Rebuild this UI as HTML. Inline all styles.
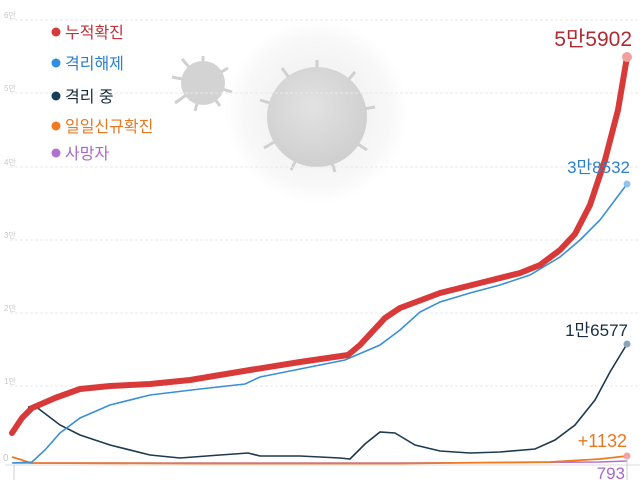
<!DOCTYPE html>
<html><head><meta charset="utf-8"><style>
html,body{margin:0;padding:0;background:#fff;}
svg{display:block;font-family:"Liberation Sans","Noto Sans CJK KR",sans-serif;}
</style></head><body>
<svg width="640" height="480" viewBox="0 0 640 480" xmlns="http://www.w3.org/2000/svg">
<defs>
<radialGradient id="halo" cx="0.5" cy="0.5" r="0.5">
<stop offset="0.55" stop-color="#f4f4f4"/><stop offset="0.8" stop-color="#f8f8f8"/><stop offset="1" stop-color="#fff"/>
</radialGradient>
<radialGradient id="bv" cx="0.45" cy="0.4" r="0.6">
<stop offset="0" stop-color="#e2e2e2"/><stop offset="1" stop-color="#cfcfcf"/>
</radialGradient>
</defs>
<rect width="640" height="480" fill="#fff"/>
<circle cx="317" cy="112" r="92" fill="url(#halo)"/>
<g stroke="#d0d0d0" stroke-width="3" fill="#cdcdcd">
<line x1="203" y1="83" x2="203" y2="56"/><line x1="203" y1="83" x2="228" y2="68"/><line x1="203" y1="83" x2="232" y2="92"/>
<line x1="203" y1="83" x2="220" y2="106"/><line x1="203" y1="83" x2="195" y2="111"/><line x1="203" y1="83" x2="175" y2="103"/>
<line x1="203" y1="83" x2="172" y2="77"/><line x1="203" y1="83" x2="182" y2="59"/>
<line x1="317" y1="117" x2="317" y2="60"/><line x1="317" y1="117" x2="355" y2="72"/><line x1="317" y1="117" x2="375" y2="107"/>
<line x1="317" y1="117" x2="367" y2="150"/><line x1="317" y1="117" x2="335" y2="172"/><line x1="317" y1="117" x2="291" y2="170"/>
<line x1="317" y1="117" x2="264" y2="148"/><line x1="317" y1="117" x2="260" y2="100"/><line x1="317" y1="117" x2="282" y2="68"/>
</g>
<circle cx="203" cy="83" r="22" fill="#d3d3d3"/>
<circle cx="317" cy="117" r="50" fill="url(#bv)"/>
<g stroke="#eaeaea" stroke-width="1" stroke-dasharray="3,2">
<line x1="10" y1="20" x2="640" y2="20"/><line x1="10" y1="93" x2="640" y2="93"/><line x1="10" y1="167" x2="640" y2="167"/>
<line x1="10" y1="240" x2="640" y2="240"/><line x1="10" y1="313" x2="640" y2="313"/><line x1="10" y1="386" x2="640" y2="386"/>
</g>
<line x1="5" y1="465" x2="640" y2="465" stroke="#ddd"/>
<line x1="14" y1="465" x2="14" y2="480" stroke="#ccc"/>
<g fill="#c8c8c8" font-size="8">
<text x="4" y="18">6만</text><text x="4" y="91">5만</text><text x="4" y="165">4만</text>
<text x="4" y="238">3만</text><text x="4" y="311">2만</text><text x="4" y="384">1만</text>
</g>
<text x="3" y="461" fill="#c8c8c8" font-size="10">0</text>
<g font-size="16">
<circle cx="56" cy="32" r="4.5" fill="#d63a3a"/><text x="65" y="38" fill="#c0303a">누적확진</text>
<circle cx="56" cy="63" r="4.5" fill="#2f8fe0"/><text x="65" y="69" fill="#2f80c8">격리해제</text>
<circle cx="56" cy="96" r="4.5" fill="#173c57"/><text x="65" y="102" fill="#1a2c3c">격리 중</text>
<circle cx="56" cy="126" r="4.5" fill="#f07a20"/><text x="65" y="132" fill="#e87820">일일신규확진</text>
<circle cx="56" cy="153" r="4.5" fill="#b070d0"/><text x="65" y="159" fill="#a868c8">사망자</text>
</g>
<polyline fill="none" stroke="#b070d0" stroke-width="1.5" points="14,463 200,463 400,463 600,462 627,461"/>
<polyline fill="none" stroke="#f07a20" stroke-width="1.8" points="12,457 22,460 30,463 200,463.5 400,463.5 550,462 600,459 627,456"/>
<polyline fill="none" stroke="#1d3a50" stroke-width="1.6" points="28,407 35,406 60,425 80,435 110,445 150,455 180,458 220,455 248,453 260,456 300,456 340,458 350,459 365,444 380,432 395,433 415,445 440,451 470,453 500,452 535,449 555,440 575,425 595,400 610,372 627,344"/>
<polyline fill="none" stroke="#3a8fd6" stroke-width="1.6" points="12,463 32,462 45,450 60,433 80,418 110,405 150,395 200,389 245,384 260,377 300,369 345,360 380,345 400,330 420,312 440,302 470,293 500,285 530,275 560,257 580,240 600,220 615,200 627,184"/>
<polyline fill="none" stroke="#d83a3a" stroke-width="6" stroke-linejoin="round" stroke-linecap="round" points="12,433 22,418 32,408 55,398 80,389 110,386 150,384 190,380 250,370 300,362 348,355 360,345 385,318 400,308 440,293 480,283 520,273 540,265 560,250 575,234 590,205 605,160 618,110 627,57"/>
<circle cx="627" cy="57" r="5" fill="#f0a0a0"/>
<circle cx="627" cy="184" r="3.5" fill="#8fc4ee"/>
<circle cx="627" cy="344" r="3.5" fill="#8aa6b8"/>
<circle cx="627" cy="456" r="3.5" fill="#f4a0a0"/>
<line x1="627" y1="456" x2="627" y2="480" stroke="#ccc"/>
<text x="632" y="46" text-anchor="end" font-size="21" fill="#b02a35">5만5902</text>
<text x="630" y="173" text-anchor="end" font-size="17" fill="#2f80c8">3만8532</text>
<text x="628" y="336" text-anchor="end" font-size="17" fill="#1a2c3c">1만6577</text>
<text x="627" y="447" text-anchor="end" font-size="18" fill="#e87820">+1132</text>
<text x="625" y="479" text-anchor="end" font-size="17" fill="#a868c8">793</text>
</svg>
</body></html>
